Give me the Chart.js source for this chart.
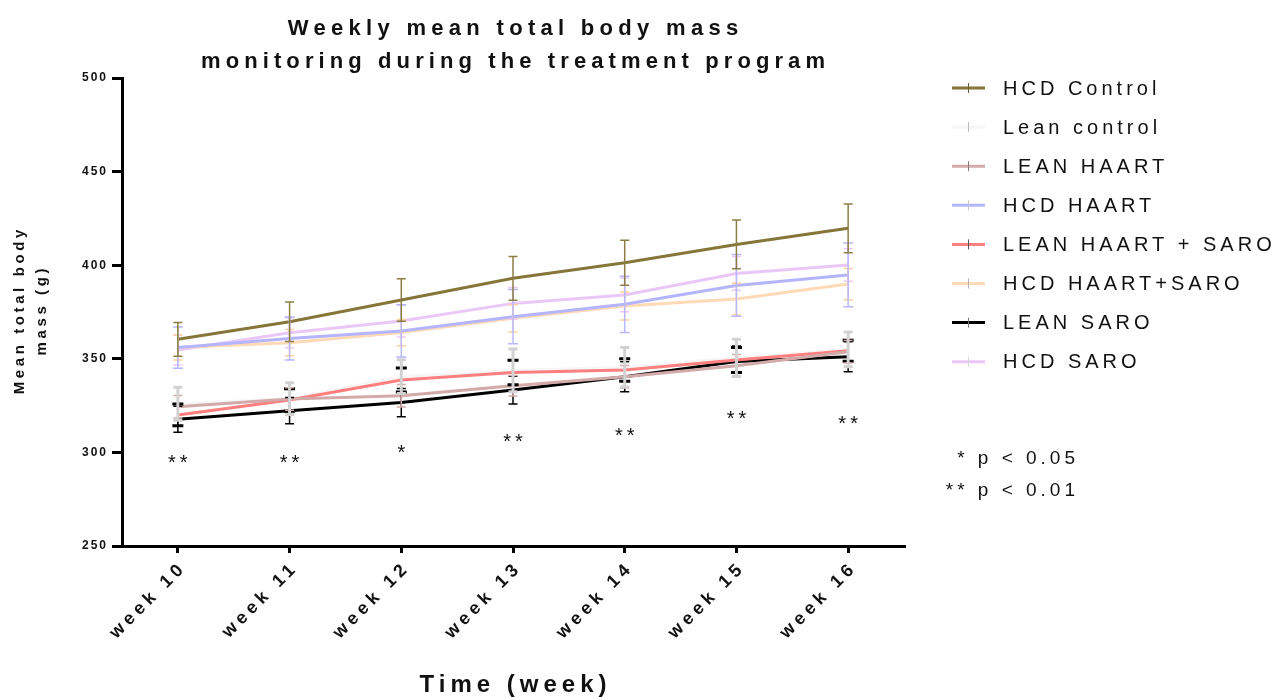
<!DOCTYPE html>
<html>
<head>
<meta charset="utf-8">
<script src="https://cdn.jsdelivr.net/npm/chart.js@4.4.0/dist/chart.umd.min.js"></script>
<style>
  html, body { margin: 0; padding: 0; background: #fff; }
  #wrap { width: 1280px; height: 697px; }
</style>
</head>
<body>
<div id="wrap"><canvas id="massChart" width="1280" height="697"></canvas></div>
<script>
// ---- data (grams) ----
const weeks = ['week 10', 'week 11', 'week 12', 'week 13', 'week 14', 'week 15', 'week 16'];

const hcdControl     = [360.4, 369.8, 381.4, 393.0, 401.3, 411.1, 419.7];
const hcdControlErr  = [9.0, 10.6, 11.3, 11.7, 12.0, 13.0, 13.0];
const leanControl    = [326.0, 328.7, 340.5, 343.8, 345.5, 350.5, 355.0];
const leanControlErr = [8.8, 8.5, 9.0, 11.4, 10.5, 10.0, 9.3];
const leanHaart      = [324.4, 328.5, 330.3, 335.6, 340.4, 346.3, 353.8];
const leanHaartErr   = [6.0, 6.0, 6.0, 5.5, 6.0, 6.0, 6.0];
const hcdHaart       = [356.0, 360.8, 364.9, 372.5, 379.1, 389.2, 394.8];
const hcdHaartErr    = [11.0, 11.5, 14.0, 14.5, 15.0, 16.5, 17.0];
const leanHaartSaro  = [320.0, 328.0, 338.7, 342.7, 344.0, 349.4, 354.3];
const leanHaartSaroErr = [5.8, 6.0, 6.4, 6.5, 6.0, 6.7, 5.6];
const hcdHaartSaro   = [356.0, 358.6, 364.0, 371.6, 378.2, 381.9, 389.9];
const hcdHaartSaroErr = [6.6, 7.0, 7.0, 7.3, 7.5, 8.5, 8.3];
const leanSaro       = [317.7, 322.3, 326.6, 333.3, 340.4, 348.5, 351.1];
const leanSaroErr    = [7.0, 7.0, 7.5, 7.4, 8.0, 8.4, 8.0];
const hcdSaro        = [354.7, 363.9, 370.2, 379.6, 384.1, 395.6, 400.1];
const hcdSaroErr     = [8.0, 8.0, 8.5, 8.5, 9.0, 9.0, 8.7];

const sigMarks = ['**', '**', '*', '**', '**', '**', '**'];
const sigY     = [297.0, 296.9, 302.5, 308.4, 311.4, 320.4, 317.7];

const titleLines = ['Weekly mean total body mass', 'monitoring during the treatment program'];
const yTitleLines = ['Mean total body', 'mass (g)'];
const xTitle = 'Time (week)';
const footnotes = ['* p < 0.05', '** p < 0.01'];

const FONT = '"Liberation Sans", Arial, Helvetica, sans-serif';

function series(label, data, err, color, errColor, errWidth, capThick, capW, tickColor, order) {
  return {
    label: label, data: data, errorBars: err,
    borderColor: color, backgroundColor: color, borderWidth: 3,
    pointRadius: 0, tension: 0, fill: false,
    errColor: errColor, errWidth: errWidth, capThick: capThick, capW: capW,
    legendTick: tickColor, order: order || 0
  };
}

const datasets = [
  series('HCD Control', hcdControl, hcdControlErr, '#86763a', '#8c7d45', 1.5, 1.5, 9, '#6b6040'),
  series('Lean control', leanControl, leanControlErr, '#f6f6f6', '#d2d2d2', 3, 3, 9, '#bdbdbd', 10),
  series('LEAN HAART', leanHaart, leanHaartErr, '#d3a9a9', '#d3a9a9', 1.5, 1.5, 9, '#8a7a7a'),
  series('HCD HAART', hcdHaart, hcdHaartErr, '#b4b4ff', '#b8b8ff', 1.5, 1.5, 10, '#c8c8c8'),
  series('LEAN HAART + SARO', leanHaartSaro, leanHaartSaroErr, '#ff7f7f', '#000000', 1, 3, 11, '#555555'),
  series('HCD HAART+SARO', hcdHaartSaro, hcdHaartSaroErr, '#ffdab6', '#ffcf9f', 1.5, 1.5, 9, '#b0b0b0'),
  series('LEAN SARO', leanSaro, leanSaroErr, '#000000', '#000000', 1.5, 1.5, 9, '#777777'),
  series('HCD SARO', hcdSaro, hcdSaroErr, '#eac7f6', '#eac7f6', 1.5, 1.5, 9, '#d8d8d8')
];

function spacedText(ctx, str, x, y, sp, align) {
  ctx.letterSpacing = sp + 'px';
  ctx.textAlign = align;
  let dx = 0;
  if (align === 'center') dx = sp / 2;
  if (align === 'right') dx = sp;
  ctx.fillText(str, x + dx, y);
}

const overlay = {
  id: 'overlay',
  beforeDraw(chart) {
    chart.ctx.letterSpacing = '2px'; // y tick labels
  },
  afterDatasetsDraw(chart) {
    const ctx = chart.ctx, xs = chart.scales.x, ys = chart.scales.y;
    ctx.save();
    ctx.lineCap = 'butt';
    for (let d = chart.data.datasets.length - 1; d >= 0; d--) {
      const ds = chart.data.datasets[d];
      ds.data.forEach((v, i) => {
        const px = xs.getPixelForValue(i);
        const top = ys.getPixelForValue(v + ds.errorBars[i]);
        const bot = ys.getPixelForValue(v - ds.errorBars[i]);
        ctx.strokeStyle = ds.errColor;
        ctx.lineWidth = ds.errWidth;
        ctx.beginPath(); ctx.moveTo(px, top); ctx.lineTo(px, bot); ctx.stroke();
        ctx.lineWidth = ds.capThick;
        ctx.beginPath();
        ctx.moveTo(px - ds.capW / 2, top); ctx.lineTo(px + ds.capW / 2, top);
        ctx.moveTo(px - ds.capW / 2, bot); ctx.lineTo(px + ds.capW / 2, bot);
        ctx.stroke();
      });
    }
    // significance stars
    ctx.fillStyle = '#111';
    ctx.font = '20px ' + FONT;
    ctx.textBaseline = 'alphabetic';
    sigMarks.forEach((m, i) => {
      spacedText(ctx, m, xs.getPixelForValue(i), ys.getPixelForValue(sigY[i]) + 11, 4, 'center');
    });
    ctx.restore();
    ctx.letterSpacing = '4.5px'; // x tick labels are drawn after this hook
  },
  afterDraw(chart) {
    const ctx = chart.ctx, area = chart.chartArea;
    const cx = (area.left + area.right) / 2;
    ctx.save();
    ctx.fillStyle = '#111';
    ctx.textBaseline = 'alphabetic';
    ctx.font = 'bold 22px ' + FONT;
    spacedText(ctx, titleLines[0], cx, 35, 5.3, 'center');
    spacedText(ctx, titleLines[1], cx, 68, 5.1, 'center');

    ctx.font = 'bold 24px ' + FONT;
    ctx.textBaseline = 'middle';
    spacedText(ctx, xTitle, cx, 685, 5, 'center');

    ctx.save();
    ctx.translate(0, (area.top + area.bottom) / 2);
    ctx.rotate(-Math.PI / 2);
    ctx.font = 'bold 15px ' + FONT;
    spacedText(ctx, yTitleLines[0], 0, 20, 3.6, 'center');
    spacedText(ctx, yTitleLines[1], 0, 42, 3.6, 'center');
    ctx.restore();

    // legend
    ctx.font = '20px ' + FONT;
    chart.data.datasets.forEach((ds, i) => {
      const y = 88 + i * 39.1;
      ctx.strokeStyle = ds.borderColor;
      ctx.lineWidth = 3;
      ctx.beginPath(); ctx.moveTo(952, y); ctx.lineTo(985, y); ctx.stroke();
      ctx.strokeStyle = ds.legendTick;
      ctx.lineWidth = 1;
      ctx.beginPath(); ctx.moveTo(968.5, y - 5); ctx.lineTo(968.5, y + 5); ctx.stroke();
      ctx.fillStyle = '#111';
      spacedText(ctx, ds.label, 1003, y + 1, 4, 'left');
    });

    ctx.font = '19px ' + FONT;
    spacedText(ctx, footnotes[0], 1075, 459, 4, 'right');
    spacedText(ctx, footnotes[1], 1075, 491, 4, 'right');
    ctx.restore();
  }
};

new Chart(document.getElementById('massChart').getContext('2d'), {
  type: 'line',
  data: { labels: weeks, datasets: datasets },
  options: {
    responsive: false,
    animation: false,
    layout: { padding: { top: 78, right: 376, left: 0, bottom: 0 } },
    plugins: { legend: { display: false }, title: { display: false }, tooltip: { enabled: false } },
    scales: {
      x: {
        type: 'category',
        offset: true,
        border: { display: true, color: '#000', width: 3 },
        grid: { display: true, offset: false, drawOnChartArea: false, drawTicks: true, tickLength: 7, lineWidth: 3, color: '#000' },
        ticks: {
          color: '#111', z: 1, padding: 4, labelOffset: 6,
          font: { family: FONT, size: 18, weight: 'bold' },
          minRotation: 45, maxRotation: 45, autoSkip: false
        },
        afterFit(scale) { scale.height = 151; }
      },
      y: {
        min: 250, max: 500,
        border: { display: true, color: '#000', width: 3 },
        grid: { display: true, drawOnChartArea: false, drawTicks: true, tickLength: 10, lineWidth: 3, color: '#000' },
        ticks: {
          stepSize: 50, color: '#111', padding: 4,
          font: { family: FONT, size: 12, weight: 'bold' }
        },
        afterFit(scale) { scale.width = 122; }
      }
    }
  },
  plugins: [overlay]
});
</script>
</body>
</html>
